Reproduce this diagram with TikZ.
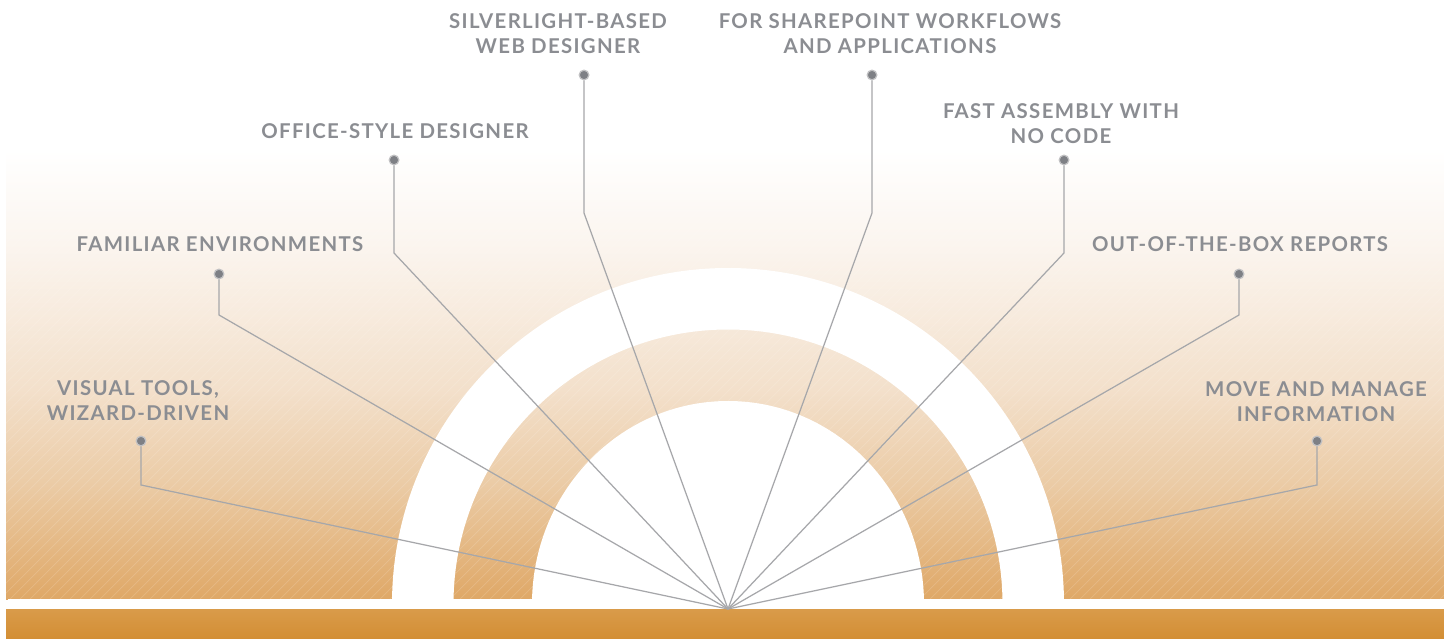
\documentclass[tikz,border=0pt]{standalone}
\usepackage{fontspec}
\setmainfont{Lato}[LetterSpace=6.5]
\usepackage{tikz}
\definecolor{cinza}{HTML}{8B8D92}
\definecolor{fio}{HTML}{A6A7AA}
\definecolor{miolo}{HTML}{7E8085}
\definecolor{areia0}{HTML}{DFA867}
\definecolor{areia1}{HTML}{EBCBA5}
\definecolor{areia2}{HTML}{F3E0CB}
\definecolor{areia3}{HTML}{FBF5EF}
\definecolor{ocre}{HTML}{D99B4A}
\definecolor{ocreescuro}{HTML}{D38E34}
\pgfdeclareverticalshading{poente}{100bp}{color(0bp)=(areia0); color(25bp)=(areia0); color(34.5bp)=(areia1); color(42.5bp)=(areia2); color(54.7bp)=(areia3); color(62.5bp)=(white); color(100bp)=(white)}
\tikzstyle{rotulo}=[text=cinza, align=center, inner sep=0pt, font=\bfseries\fontsize{11.6}{14.2}\selectfont]
\tikzstyle{marcador}=[circle, draw=fio!70, fill=miolo, line width=0.7pt, minimum size=5.5pt, inner sep=0pt]
\tikzstyle{haste}=[draw=fio, line width=0.7pt]

\begin{document}
\begin{tikzpicture}[x=0.02cm, y=-0.02cm]
	\useasboundingbox (0,0) rectangle (1444,639);
	\shade[shading=poente] (6,0) rectangle (1444,599);
	\begin{scope}
		\clip (6,150) rectangle (1444,599);
		\foreach \i in {-460,-450,...,1440}
			\draw[white, opacity=0.16, line width=0.4pt] (\i,599) -- ++(450,-450);
	\end{scope}
	\begin{scope}
		\clip (0,0) rectangle (1444,599);
		\fill[white, even odd rule] (728,604) circle (336) (728,604) circle (274.5);
		\fill[white] (728,604) ellipse (196 and 203);
	\end{scope}
	\fill[white] (8,599) rectangle (1444,609);
	\shade[top color=ocre, bottom color=ocreescuro] (6,609) rectangle (1444,639);

	\coordinate (centro) at (728,609);

	\node[rotulo] (visual) at (138,401) {VISUAL TOOLS,\\WIZARD-DRIVEN};
	\node[rotulo] (familiar) at (220,244) {FAMILIAR ENVIRONMENTS};
	\node[rotulo] (office) at (395,131) {OFFICE-STYLE DESIGNER};
	\node[rotulo] (silverlight) at (558,34) {SILVERLIGHT-BASED\\WEB DESIGNER};
	\node[rotulo] (sharepoint) at (890,34) {FOR SHAREPOINT WORKFLOWS\\AND APPLICATIONS};
	\node[rotulo] (fast) at (1061,124) {FAST ASSEMBLY WITH\\NO CODE};
	\node[rotulo] (reports) at (1240,244) {OUT-OF-THE-BOX REPORTS};
	\node[rotulo] (move) at (1316,402) {MOVE AND MANAGE\\INFORMATION};

	\node[marcador] (m1) at (141,441) {};
	\node[marcador] (m2) at (219,274) {};
	\node[marcador] (m3) at (394,160) {};
	\node[marcador] (m4) at (584,75) {};
	\node[marcador] (m5) at (872,75) {};
	\node[marcador] (m6) at (1064,160) {};
	\node[marcador] (m7) at (1239,274) {};
	\node[marcador] (m8) at (1317,441) {};

	\coordinate (c1) at (141,485);
	\coordinate (c2) at (219,315);
	\coordinate (c3) at (394,253);
	\coordinate (c4) at (584,213);
	\coordinate (c5) at (872,213);
	\coordinate (c6) at (1064,253);
	\coordinate (c7) at (1239,315);
	\coordinate (c8) at (1317,485);

	\draw[haste] (centro) -- (c1) -- (m1);
	\draw[haste] (centro) -- (c2) -- (m2);
	\draw[haste] (centro) -- (c3) -- (m3);
	\draw[haste] (centro) -- (c4) -- (m4);
	\draw[haste] (centro) -- (c5) -- (m5);
	\draw[haste] (centro) -- (c6) -- (m6);
	\draw[haste] (centro) -- (c7) -- (m7);
	\draw[haste] (centro) -- (c8) -- (m8);
\end{tikzpicture}
\end{document}
